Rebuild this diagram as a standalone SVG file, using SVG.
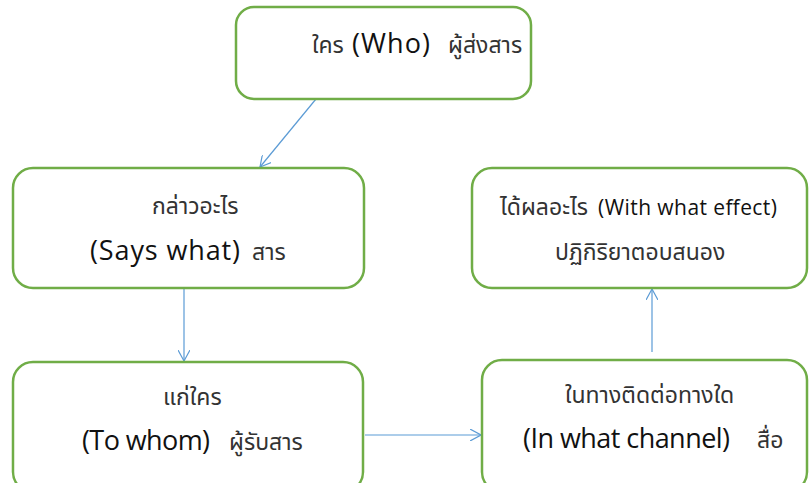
<svg xmlns="http://www.w3.org/2000/svg" width="809" height="483" viewBox="0 0 809 483">
  <style>
    .box { fill: #ffffff; stroke: #70AD47; stroke-width: 2.5; }
    .th { font-family: "Noto Sans Thai", "Noto Sans", "DejaVu Sans", sans-serif; font-size: 23px; fill: #333; }
    .en { font-family: "Open Sans", "Noto Sans", sans-serif; font-size: 27px; font-weight: 500; fill: #111; }
    .link { stroke: #5B9BD5; stroke-width: 1.2; fill: none; marker-end: url(#open); }
  </style>
  <defs>
    <marker id="open" viewBox="0 0 12 12" refX="11" refY="6" markerWidth="12" markerHeight="12" markerUnits="userSpaceOnUse" orient="auto">
      <path d="M0,0 L11,6 L0,12" fill="none" stroke="#5B9BD5" stroke-width="1.2"/>
    </marker>
  </defs>
  <rect width="809" height="483" fill="#ffffff"/>

  <g id="connectors">
    <line class="link" x1="316" y1="99" x2="260" y2="167"/>
    <line class="link" x1="184" y1="289" x2="184" y2="361"/>
    <line class="link" x1="365" y1="435" x2="481" y2="435"/>
    <line class="link" x1="652" y1="352" x2="652" y2="289"/>
  </g>

  <g id="who">
    <rect class="box" x="236" y="7" width="295" height="92" rx="18"/>
    <text class="th" x="312" y="53">ใคร</text>
    <text class="en" x="352" y="53" textLength="78">(Who)</text>
    <text class="th" x="448" y="53">ผู้ส่งสาร</text>
  </g>

  <g id="says-what">
    <rect class="box" x="13" y="168" width="351" height="120" rx="20"/>
    <text class="th" x="152" y="214">กล่าวอะไร</text>
    <text class="en" x="90" y="260" textLength="150">(Says what)</text>
    <text class="th" x="252" y="260">สาร</text>
  </g>

  <g id="with-what-effect">
    <rect class="box" x="472" y="168" width="335" height="120" rx="20"/>
    <text class="th" x="500" y="215">ได้ผลอะไร</text>
    <text class="en" x="598" y="215" style="font-size:21px" textLength="179">(With what effect)</text>
    <text class="th" x="555" y="260">ปฏิกิริยาตอบสนอง</text>
  </g>

  <g id="to-whom">
    <rect class="box" x="13" y="362" width="350" height="130" rx="20"/>
    <text class="th" x="163" y="405">แก่ใคร</text>
    <text class="en" x="82" y="450" textLength="128">(To whom)</text>
    <text class="th" x="229" y="450">ผู้รับสาร</text>
  </g>

  <g id="in-what-channel">
    <rect class="box" x="482" y="360" width="325" height="132" rx="20"/>
    <text class="th" x="565" y="403">ในทางติดต่อทางใด</text>
    <text class="en" x="523" y="448" textLength="207">(In what channel)</text>
    <text class="th" x="757" y="448">สื่อ</text>
  </g>
</svg>
